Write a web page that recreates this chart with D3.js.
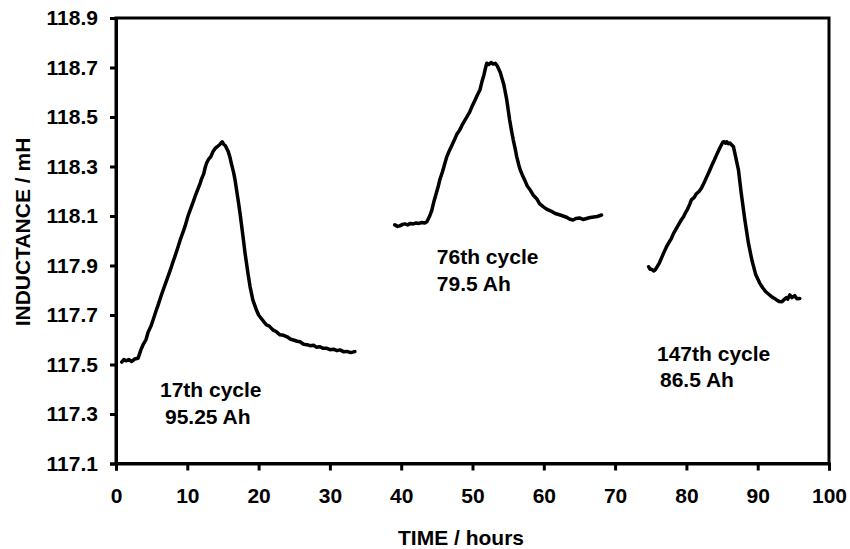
<!DOCTYPE html>
<html><head><meta charset="utf-8">
<script src="https://cdn.jsdelivr.net/npm/d3@7"></script>
<style>body{margin:0;background:#fff}text{font-family:Arial,"Liberation Sans",sans-serif;font-weight:bold;fill:#000}</style>
</head><body><svg id="c" width="850" height="549"></svg>
<script>
// Data
const xTicks = [0,10,20,30,40,50,60,70,80,90,100];
const yTicks = [117.1,117.3,117.5,117.7,117.9,118.1,118.3,118.5,118.7,118.9];
const cycle17 = [[0.8,117.51],[1.1,117.52],[1.4,117.515],[1.8,117.52],[2.2,117.512],[2.6,117.522],[3.1,117.525],[3.5,117.56],[3.8,117.58],[4.2,117.6],[4.5,117.63],[4.9,117.655],[5.2,117.68],[5.6,117.715],[5.9,117.74],[6.3,117.775],[6.6,117.80],[7.1,117.84],[7.6,117.88],[8.0,117.915],[8.3,117.94],[8.7,117.975],[9.0,118.003],[9.4,118.035],[9.7,118.06],[10.1,118.1],[10.4,118.124],[10.8,118.155],[11.1,118.18],[11.5,118.21],[11.8,118.232],[12.0,118.25],[12.3,118.27],[12.5,118.295],[12.7,118.313],[13.0,118.33],[13.3,118.34],[13.6,118.36],[13.9,118.373],[14.2,118.38],[14.4,118.385],[14.6,118.39],[14.9,118.40],[15.1,118.39],[15.3,118.385],[15.5,118.375],[15.75,118.36],[16.0,118.335],[16.2,118.31],[16.5,118.275],[16.7,118.245],[17.1,118.17],[17.4,118.11],[17.8,118.02],[18.1,117.95],[18.5,117.87],[18.8,117.815],[19.2,117.76],[19.7,117.72],[20.0,117.7],[20.4,117.685],[20.8,117.67],[21.1,117.66],[21.5,117.655],[22.0,117.64],[22.5,117.632],[23.0,117.62],[23.5,117.618],[24.0,117.612],[24.5,117.602],[25.0,117.598],[25.4,117.594],[25.8,117.592],[26.3,117.582],[26.8,117.58],[27.2,117.576],[27.7,117.578],[28.1,117.57],[28.6,117.572],[29.0,117.566],[29.5,117.566],[30.0,117.56],[30.5,117.562],[31.0,117.556],[31.4,117.559],[31.9,117.552],[32.4,117.553],[32.9,117.548],[33.5,117.552]];
const cycle76 = [[39.1,118.064],[39.5,118.058],[39.8,118.06],[40.2,118.066],[40.5,118.068],[40.9,118.064],[41.3,118.07],[41.7,118.068],[42.1,118.072],[42.5,118.07],[42.9,118.074],[43.3,118.072],[43.6,118.077],[44.0,118.1],[44.3,118.124],[44.6,118.16],[44.9,118.19],[45.2,118.22],[45.4,118.245],[45.8,118.28],[46.1,118.31],[46.4,118.34],[46.8,118.367],[47.1,118.385],[47.5,118.41],[47.8,118.43],[48.2,118.447],[48.5,118.465],[48.9,118.485],[49.2,118.5],[49.6,118.52],[49.9,118.54],[50.3,118.565],[50.7,118.59],[51.05,118.61],[51.3,118.64],[51.6,118.67],[51.8,118.695],[52.0,118.717],[52.3,118.712],[52.6,118.72],[52.9,118.714],[53.2,118.717],[53.5,118.705],[53.9,118.68],[54.1,118.66],[54.4,118.63],[54.6,118.6],[54.8,118.57],[55.0,118.53],[55.2,118.49],[55.5,118.44],[55.7,118.41],[56.0,118.37],[56.2,118.34],[56.5,118.305],[56.7,118.286],[57.0,118.265],[57.4,118.24],[57.7,118.22],[58.1,118.205],[58.5,118.185],[59.0,118.17],[59.4,118.15],[59.9,118.138],[60.4,118.128],[61.0,118.12],[61.6,118.11],[62.3,118.104],[62.7,118.1],[63.2,118.095],[63.6,118.088],[64.1,118.084],[64.5,118.09],[65.0,118.092],[65.5,118.086],[66.0,118.09],[66.5,118.094],[67.0,118.096],[67.5,118.098],[68.1,118.104]];
const cycle147 = [[74.7,117.895],[74.9,117.885],[75.1,117.885],[75.4,117.878],[75.6,117.882],[75.9,117.895],[76.2,117.91],[76.5,117.93],[76.8,117.95],[77.2,117.975],[77.5,117.99],[77.9,118.01],[78.2,118.03],[78.6,118.05],[78.9,118.065],[79.3,118.085],[79.6,118.097],[79.9,118.115],[80.2,118.13],[80.5,118.15],[80.7,118.165],[81.1,118.175],[81.4,118.19],[81.8,118.2],[82.1,118.212],[82.5,118.235],[82.8,118.255],[83.2,118.28],[83.5,118.30],[83.9,118.325],[84.2,118.345],[84.6,118.37],[84.9,118.387],[85.1,118.398],[85.3,118.40],[85.5,118.394],[85.65,118.40],[85.9,118.392],[86.1,118.395],[86.4,118.386],[86.6,118.38],[86.9,118.34],[87.3,118.286],[87.7,118.19],[88.2,118.084],[88.7,117.99],[89.2,117.92],[89.7,117.865],[90.3,117.828],[90.7,117.81],[91.1,117.795],[91.5,117.785],[91.95,117.774],[92.3,117.768],[92.7,117.76],[93.0,117.755],[93.4,117.754],[93.7,117.762],[94.0,117.77],[94.2,117.764],[94.5,117.781],[94.8,117.77],[95.2,117.778],[95.5,117.766],[95.9,117.767]];
const annot = [
  {t:"17th cycle", x:6.17, y:117.369},
  {t:"95.25 Ah", x:6.87, y:117.26},
  {t:"76th cycle", x:45.0, y:117.906},
  {t:"79.5 Ah", x:45.0, y:117.797},
  {t:"147th cycle", x:75.88, y:117.515},
  {t:"86.5 Ah", x:76.3, y:117.409}
];

const svg = d3.select("#c");
const L=116, R=829, T=18, B=463.5;
const x = d3.scaleLinear().domain([0,100]).range([L,R]);
const y = d3.scaleLinear().domain([117.1,118.9]).range([B,T]);
const FS = "21px";

// frame
svg.append("rect").attr("x",L).attr("y",T).attr("width",R-L).attr("height",B-T)
  .attr("fill","none").attr("stroke","#000").attr("stroke-width",3);

const xa = svg.append("g").attr("transform",`translate(0,${B})`)
  .call(d3.axisBottom(x).tickValues(xTicks).tickSize(7).tickPadding(17.5).tickFormat(d3.format("d")));
const ya = svg.append("g").attr("transform",`translate(${L},0)`)
  .call(d3.axisLeft(y).tickValues(yTicks).tickSize(6).tickPadding(12).tickFormat(d3.format(".1f")));
[xa,ya].forEach(a=>{
  a.select(".domain").attr("stroke-width",3);
  a.selectAll(".tick line").attr("stroke-width",3);
  a.selectAll(".tick text").style("font-size",FS).style("font-family","Arial, 'Liberation Sans', sans-serif").style("font-weight","bold");
});

const line = d3.line().x(d=>x(d[0])).y(d=>y(d[1])).curve(d3.curveLinear);
[cycle17,cycle76,cycle147].forEach(s=>{
  svg.append("path").datum(s).attr("d",line).attr("fill","none")
    .attr("stroke","#000").attr("stroke-width",3.5).attr("stroke-linejoin","round").attr("stroke-linecap","round");
});

annot.forEach(a=>{
  svg.append("text").attr("x",x(a.x)).attr("y",y(a.y)).attr("text-anchor","start")
    .style("font-size",FS).text(a.t);
});

svg.append("text").attr("x",461).attr("y",545).attr("text-anchor","middle").style("font-size",FS).text("TIME / hours");
svg.append("text").attr("transform","translate(30,232) rotate(-90)").attr("text-anchor","middle").style("font-size",FS).text("INDUCTANCE / mH");
</script></body></html>
